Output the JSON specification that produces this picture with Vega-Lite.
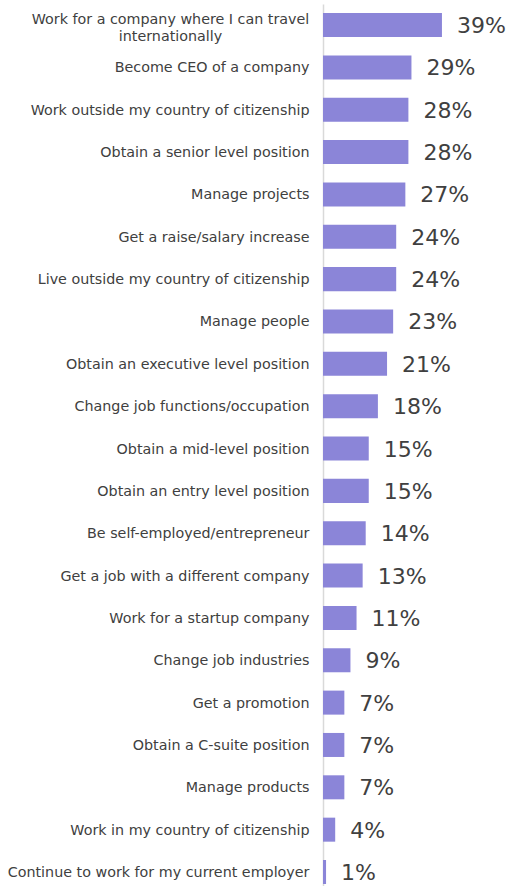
{
  "$schema": "https://vega.github.io/schema/vega-lite/v6.json",
  "autosize": {"type": "none"},
  "padding": {"left": 323, "top": 4, "right": 0, "bottom": 0},
  "width": 183,
  "height": 882,
  "background": "white",
  "config": {"view": {"stroke": null}},
  "data": {"values": [
    {"item": "Work for a company where I can travel internationally", "pct": 39},
    {"item": "Become CEO of a company", "pct": 29},
    {"item": "Work outside my country of citizenship", "pct": 28},
    {"item": "Obtain a senior level position", "pct": 28},
    {"item": "Manage projects", "pct": 27},
    {"item": "Get a raise/salary increase", "pct": 24},
    {"item": "Live outside my country of citizenship", "pct": 24},
    {"item": "Manage people", "pct": 23},
    {"item": "Obtain an executive level position", "pct": 21},
    {"item": "Change job functions/occupation", "pct": 18},
    {"item": "Obtain a mid-level position", "pct": 15},
    {"item": "Obtain an entry level position", "pct": 15},
    {"item": "Be self-employed/entrepreneur", "pct": 14},
    {"item": "Get a job with a different company", "pct": 13},
    {"item": "Work for a startup company", "pct": 11},
    {"item": "Change job industries", "pct": 9},
    {"item": "Get a promotion", "pct": 7},
    {"item": "Obtain a C-suite position", "pct": 7},
    {"item": "Manage products", "pct": 7},
    {"item": "Work in my country of citizenship", "pct": 4},
    {"item": "Continue to work for my current employer", "pct": 1}
  ]},
  "encoding": {
    "y": {
      "field": "item", "type": "nominal", "sort": null,
      "scale": {"paddingInner": 0.433, "paddingOuter": 0.13, "align": 0.82},
      "axis": {
        "title": null, "ticks": false, "domainColor": "#d9d9d9", "domainWidth": 1.5,
        "labelFont": "DejaVu Sans", "labelFontSize": 14.3, "labelColor": "#404040",
        "labelLimit": 400,
        "labelPadding": {"condition": {"test": "datum.value == 'Work for a company where I can travel internationally'", "value": 153}, "value": 14},
        "labelAlign": {"condition": {"test": "datum.value == 'Work for a company where I can travel internationally'", "value": "center"}, "value": "right"},
        "labelOffset": {"condition": {"test": "datum.value == 'Work for a company where I can travel internationally'", "value": -5}, "value": 1},
        "labelExpr": "datum.label == 'Work for a company where I can travel internationally' ? ['Work for a company where I can travel', 'internationally'] : datum.label",
        "labelLineHeight": 17
      }
    },
    "x": {"field": "pct", "type": "quantitative", "scale": {"domain": [0, 60]}, "axis": null}
  },
  "layer": [
    {"mark": {"type": "bar", "color": "#8b85d8"}},
    {"mark": {"type": "text", "align": "left", "baseline": "middle", "dx": 15, "dy": 1, "font": "DejaVu Sans", "fontSize": 22, "color": "#404040", "text": {"expr": "datum.pct + '%'"}}}
  ]
}
